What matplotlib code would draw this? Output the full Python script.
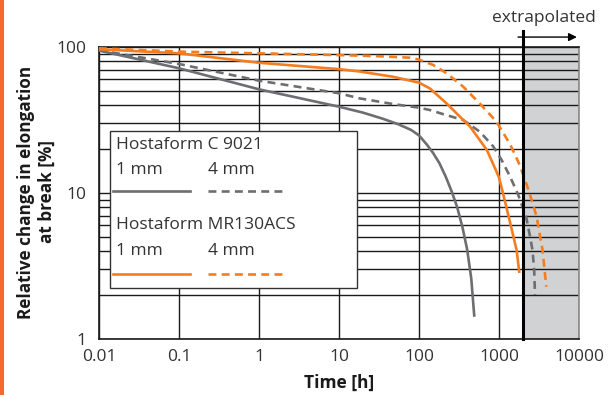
import matplotlib
matplotlib.use("Agg")
import matplotlib.pyplot as plt
from matplotlib import font_manager as fm
from matplotlib.patches import Rectangle
import matplotlib.transforms as mtransforms

# ---------------- data ----------------
x_ticks = [0.01, 0.1, 1, 10, 100, 1000, 10000]
x_tick_labels = ["0.01", "0.1", "1", "10", "100", "1000", "10000"]
y_ticks = [1, 10, 100]
y_tick_labels = ["1", "10", "100"]

c9021_1mm_t = [0.01, 0.1, 1, 10, 20, 35, 55, 80, 100, 125, 150, 180, 215, 257, 300, 350, 400, 450, 490]
c9021_1mm_v = [94.5, 71.5, 51.3, 39, 35.5, 32.3, 29.6, 27, 24.8, 21.5, 18.8, 16, 13, 10.2, 8, 5.8, 4.1, 2.6, 1.45]

c9021_4mm_t = [0.01, 0.1, 1, 10, 18, 47, 100, 137, 200, 357, 575, 850, 1080, 1380, 1740, 2180, 2450, 2620, 2750, 2820]
c9021_4mm_v = [95, 76.5, 58.8, 48.2, 44.5, 40.7, 38.4, 37, 34.7, 31.6, 26.3, 20.8, 16.8, 12.9, 9.7, 6.9, 5.0, 4.07, 3.0, 2.0]

mr_1mm_t = [0.01, 0.1, 1, 10, 18, 47, 100, 137, 222, 325, 435, 705, 890, 1000, 1120, 1320, 1660, 1790]
mr_1mm_v = [96.5, 90.5, 78, 70.5, 68, 62.6, 57, 52, 41, 33.3, 28.5, 19.7, 14.8, 12.8, 10, 6.9, 4.07, 2.89]

mr_4mm_t = [0.01, 0.1, 1, 10, 28, 77, 100, 150, 222, 357, 575, 930, 1380, 1820, 2380, 2950, 3500, 3900]
mr_4mm_v = [98, 93, 90.5, 88, 86.7, 84.5, 82, 75.4, 66, 53.5, 41, 30.8, 21.5, 15.5, 10.2, 6.9, 4.07, 2.28]

extrap_start = 2000
x_min, x_max = 0.01, 10000
y_min, y_max = 1, 100

legend_title_1 = "Hostaform C 9021"
legend_title_2 = "Hostaform MR130ACS"
label_1mm = "1 mm"
label_4mm = "4 mm"

# ---------------- fonts ----------------
avail = {f.name for f in fm.fontManager.ttflist}
font = "DejaVu Sans"
for cand in ["Open Sans", "Noto Sans", "Lato"]:
    if cand in avail:
        font = cand
        break
plt.rcParams["font.family"] = [font, "DejaVu Sans"]

GRAY = "#6d6e71"
ORANGE = "#f47d20"
SHADE = "#d1d2d4"
TXT = "#333333"
FS = 12.5

fig = plt.figure(figsize=(6.16, 3.95), dpi=100)
ax = fig.add_axes([99 / 616, 1 - 339 / 395, 480 / 616, 292 / 395])
ax.set_xscale("log")
ax.set_yscale("log")
ax.set_xlim(x_min, x_max)
ax.set_ylim(y_min, y_max)

# shaded extrapolated area
ax.axvspan(extrap_start, x_max, color=SHADE, zorder=0, lw=0)

# grid
ax.grid(True, which="major", axis="x", color="#1a1a1a", lw=1.0, zorder=1)
ax.grid(True, which="both", axis="y", color="#1a1a1a", lw=1.0, zorder=1)
ax.xaxis.set_minor_locator(matplotlib.ticker.NullLocator())

ax.set_xticks(x_ticks)
ax.set_xticklabels(x_tick_labels)
ax.set_yticks(y_ticks)
ax.set_yticklabels(y_tick_labels)
ax.yaxis.set_minor_formatter(matplotlib.ticker.NullFormatter())
ax.tick_params(which="both", length=0)
ax.tick_params(axis="x", pad=7, labelsize=FS, labelcolor=TXT)
ax.tick_params(axis="y", pad=9, labelsize=FS, labelcolor=TXT)

for s in ["left", "bottom", "top"]:
    ax.spines[s].set_color("#1a1a1a")
    ax.spines[s].set_linewidth(1.2)
ax.spines["right"].set_color("#8a8a8a")
ax.spines["right"].set_linewidth(1.2)

# curves
lw = 1.9
ax.plot(c9021_1mm_t, c9021_1mm_v, color=GRAY, lw=lw, zorder=3)
ax.plot(c9021_4mm_t, c9021_4mm_v, color=GRAY, lw=lw, dashes=(3.0, 2.0), zorder=3)
ax.plot(mr_1mm_t, mr_1mm_v, color=ORANGE, lw=lw, zorder=4)
ax.plot(mr_4mm_t, mr_4mm_v, color=ORANGE, lw=lw, dashes=(3.0, 2.0), zorder=4)

# extrapolation marker line + arrow + text
trans = mtransforms.blended_transform_factory(ax.transData, ax.transAxes)
ax.plot([extrap_start, extrap_start], [0, 1.055], transform=trans, color="black",
        lw=2.2, clip_on=False, zorder=5)
ax.annotate("", xy=(9400, 1.034), xytext=(1730, 1.034), xycoords=trans, textcoords=trans,
            arrowprops=dict(arrowstyle="-|>", color="black", lw=1.0, mutation_scale=12,
                            shrinkA=0, shrinkB=0), annotation_clip=False)
ax.text(3650, 1.10, "extrapolated", transform=trans, ha="center", va="center",
        fontsize=FS, color=TXT)

# legend box (manual)
box = Rectangle((0.023, 0.175), 0.5145, 0.537, transform=ax.transAxes,
                facecolor="white", edgecolor="#333333", lw=1.0, zorder=6)
ax.add_patch(box)
tx = 0.036
for txt, xx, yy in [(legend_title_1, tx, 0.664), (label_1mm, tx, 0.579), (label_4mm, 0.227, 0.579),
                    (legend_title_2, tx, 0.390), (label_1mm, tx, 0.302), (label_4mm, 0.227, 0.302)]:
    ax.text(xx, yy, txt, transform=ax.transAxes, fontsize=FS, color=TXT,
            va="center", ha="left", zorder=7)
ax.plot([0.029, 0.190], [0.506, 0.506], transform=ax.transAxes, color=GRAY, lw=lw, zorder=7)
ax.plot([0.227, 0.383], [0.506, 0.506], transform=ax.transAxes, color=GRAY, lw=lw,
        dashes=(3.0, 2.0), zorder=7)
ax.plot([0.029, 0.190], [0.224, 0.224], transform=ax.transAxes, color=ORANGE, lw=lw, zorder=7)
ax.plot([0.227, 0.383], [0.224, 0.224], transform=ax.transAxes, color=ORANGE, lw=lw,
        dashes=(3.0, 2.0), zorder=7)

# axis labels
fig.text(36 / 616, 1 - 192 / 395, "Relative change in elongation\nat break [%]",
         rotation=90, ha="center", va="center", fontsize=12.3, fontweight="bold",
         multialignment="center", color="#1a1a1a", linespacing=1.2)
fig.text(339 / 616, 1 - 383 / 395, "Time [h]", ha="center", va="center",
         fontsize=12.5, fontweight="bold", color="#1a1a1a")

# orange stripe at left edge
fig.patches.append(Rectangle((0, 0), 4 / 616, 1, transform=fig.transFigure,
                             facecolor="#f26a2e", edgecolor="none"))

fig.savefig("out.png", dpi=100)
